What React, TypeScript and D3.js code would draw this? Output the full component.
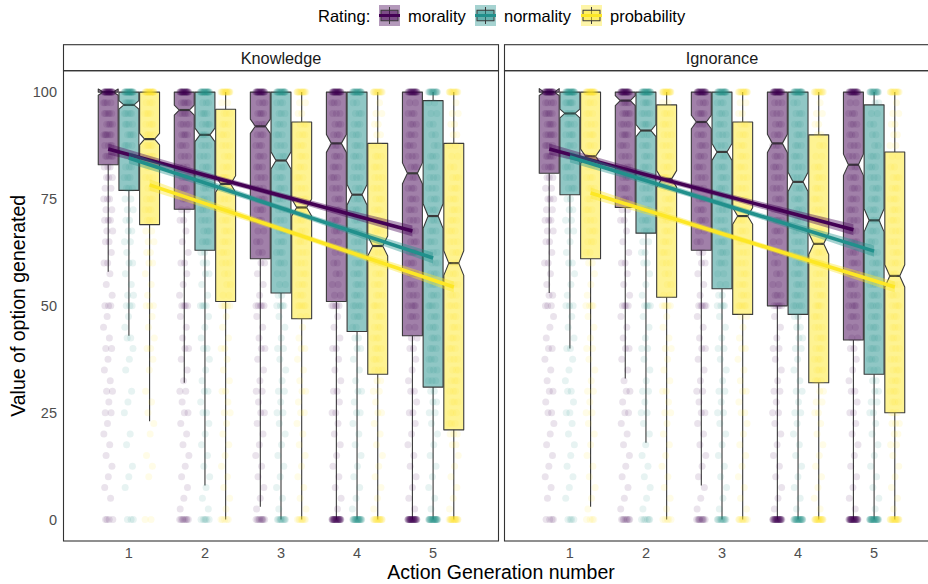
import React from "react";
import * as d3 from "d3";

const facets = ["Knowledge", "Ignorance"];
const ratings = ["morality", "normality", "probability"];
const ratingColors = ["#440154", "#21908C", "#FDE725"];
const generations = [1, 2, 3, 4, 5];
const yTicks = [0, 25, 50, 75, 100];

// boxplot stats per generation: [whisker low, q1, median, q3, whisker high]
const knowMoralityBox = [[58, 83, 100, 100, 100], [32, 72.6, 95.8, 100, 100], [3, 61, 92, 100, 100], [0, 51, 88, 100, 100], [0, 43, 81, 100, 100]];
const knowNormalityBox = [[43, 77, 97, 100, 100], [8, 63, 90, 100, 100], [0, 53, 84, 100, 100], [0, 44, 76, 100, 100], [0, 31, 71, 98, 100]];
const knowProbabilityBox = [[23, 69, 89, 100, 100], [0, 51, 78.5, 96, 100], [0, 47, 73, 93, 100], [0, 34, 64, 88, 100], [0, 21, 60, 88, 100]];
const ignMoralityBox = [[53, 81, 100, 100, 100], [33, 73, 98, 100, 100], [8, 63, 93, 100, 100], [0, 50, 88, 100, 100], [0, 42, 83, 100, 100]];
const ignNormalityBox = [[40, 76, 95, 100, 100], [18, 67, 91, 100, 100], [0, 54, 86, 100, 100], [0, 48, 79, 100, 100], [0, 34, 70, 97, 100]];
const ignProbabilityBox = [[3, 61, 85, 100, 100], [0, 52, 79.7, 97, 100], [0, 48, 71, 93, 100], [0, 32, 64.5, 90, 100], [0, 25, 57, 86, 100]];

// linear fit per rating: [value at generation 1, value at generation 5]
const knowFit = [[86.7, 67.5], [84.6, 61.2], [78.3, 54.4]];
const ignFit = [[86.7, 67.8], [84.8, 62.8], [76.4, 54.4]];
// standard error band half width at generation 1, 3, 5
const fitSe = [1.3, 0.65, 1.3];
const nObs = 1360;

// jittered observations: counts at each level 100, 97.5, ... 0
const pointLevels = d3.range(0, 41).map((i) => 100 - i * 2.5);
const knowMoralityPts = [
  [30,4,5,4,6,4,5,3,3,2,3,2,3,2,2,1,2,1,1,1,3,1,1,1,2,1,1,1,2,1,2,1,1,1,1,1,1,1,1,0,4],
  [28,5,5,4,4,3,3,3,3,3,3,2,2,1,1,1,2,1,1,1,4,1,1,1,2,1,1,1,2,1,2,1,1,1,1,1,1,1,1,1,8],
  [26,3,4,4,3,3,3,3,3,3,3,3,3,2,2,2,2,1,1,1,5,1,1,1,2,1,1,1,2,1,2,1,1,1,1,1,1,1,1,1,9],
  [28,3,3,3,3,3,3,3,3,3,3,3,3,3,2,2,2,2,2,2,5,1,1,1,2,1,1,1,2,1,2,1,1,1,1,1,1,1,1,1,28],
  [25,2,3,3,3,3,3,3,3,3,3,3,3,3,3,3,3,3,3,3,4,3,2,2,2,1,1,1,2,1,2,1,1,1,1,1,1,1,1,1,30],
];
const knowNormalityPts = [
  [25,8,5,4,4,4,3,3,3,3,2,2,2,2,2,1,2,1,1,2,3,1,1,2,1,1,1,0,1,1,1,0,1,1,0,1,1,1,0,0,3],
  [24,3,4,4,4,3,3,3,3,3,3,3,3,3,3,2,2,2,1,1,4,1,1,1,2,1,1,1,2,1,2,1,1,1,1,1,1,1,1,1,6],
  [22,3,3,3,3,3,3,3,3,3,3,3,3,3,3,3,3,2,2,2,4,1,1,1,2,1,1,1,2,1,2,1,1,1,1,1,1,1,1,1,10],
  [22,2,3,3,3,3,3,3,3,3,3,3,3,3,3,3,3,3,3,3,4,3,2,2,2,1,1,1,2,1,2,1,1,1,1,1,1,1,1,1,22],
  [18,2,2,2,2,2,3,3,3,3,3,3,3,3,3,3,3,3,3,3,4,3,3,3,3,3,3,3,2,2,2,1,1,1,1,1,1,1,1,1,25],
];
const knowProbabilityPts = [
  [22,3,4,4,4,5,4,4,3,3,3,3,3,2,2,2,2,1,1,1,3,1,1,1,2,1,1,0,1,1,1,1,1,0,1,1,1,0,0,0,2],
  [18,2,3,3,3,3,3,3,4,3,3,3,3,3,3,3,3,2,2,2,5,1,1,1,2,1,1,1,2,1,2,1,1,1,1,1,1,1,1,1,5],
  [15,2,2,3,3,3,3,3,3,3,3,3,3,3,3,3,3,3,3,3,5,2,1,1,2,1,1,1,2,1,2,1,1,1,1,1,1,1,1,1,9],
  [14,1,2,2,2,2,3,3,3,3,3,3,3,3,3,3,3,3,3,3,4,3,3,3,3,3,3,2,2,1,2,1,1,1,1,1,1,1,1,1,16],
  [14,1,2,2,2,2,2,2,3,3,3,3,3,3,3,3,3,3,3,3,4,3,3,3,3,3,3,3,3,3,3,3,3,2,1,1,1,1,1,1,18],
];
const ignMoralityPts = [
  [30,4,5,4,5,4,5,4,3,2,3,2,3,2,2,1,2,1,1,2,3,1,1,1,2,1,1,1,2,1,2,1,1,1,1,1,1,1,1,0,4],
  [28,5,5,4,4,3,3,3,3,3,3,2,2,1,1,1,2,1,1,1,4,1,1,1,2,1,1,1,2,1,2,1,1,1,1,1,1,1,1,1,8],
  [26,3,4,4,3,3,3,3,3,3,3,3,3,2,2,2,2,1,1,1,5,1,1,1,2,1,1,1,2,1,2,1,1,1,1,1,1,1,1,1,10],
  [28,3,3,3,3,3,3,3,3,3,3,3,3,3,2,2,2,2,2,3,5,1,1,1,2,1,1,1,2,1,2,1,1,1,1,1,1,1,1,1,28],
  [25,2,3,3,3,3,3,3,3,3,3,3,3,3,3,3,3,3,3,3,4,3,2,2,2,1,1,1,2,1,2,1,1,1,1,1,1,1,1,1,30],
];
const ignNormalityPts = [
  [24,6,5,4,4,3,3,3,3,3,2,2,2,2,1,1,2,1,1,1,3,1,1,1,2,1,1,1,2,1,2,1,1,1,1,1,1,1,1,0,4],
  [24,4,4,4,4,3,3,3,3,3,3,3,3,3,2,2,2,1,1,1,4,1,1,1,2,1,1,1,2,1,2,1,1,1,1,1,1,1,1,1,6],
  [22,3,3,3,3,3,3,3,3,3,3,3,3,3,3,3,3,2,2,2,4,1,1,1,2,1,1,1,2,1,2,1,1,1,1,1,1,1,1,1,12],
  [22,2,3,3,3,3,3,3,3,3,3,3,3,3,3,3,3,3,3,3,4,2,2,2,2,1,1,1,2,1,2,1,1,1,1,1,1,1,1,1,22],
  [18,2,2,2,2,2,3,3,3,3,3,3,3,3,3,3,3,3,3,3,4,3,3,3,3,3,3,2,2,2,2,1,1,1,1,1,1,1,1,1,25],
];
const ignProbabilityPts = [
  [20,3,3,3,4,3,4,3,3,3,3,3,3,3,3,2,2,1,1,1,4,1,1,1,2,1,1,1,2,1,2,1,1,1,1,1,1,1,1,1,4],
  [18,2,3,3,3,3,3,3,4,3,3,3,3,3,3,3,3,2,2,2,5,1,1,1,2,1,1,1,2,1,2,1,1,1,1,1,1,1,1,1,5],
  [15,2,2,3,3,3,3,3,3,3,3,3,3,3,3,3,3,3,3,3,5,2,1,1,2,1,1,1,2,1,2,1,1,1,1,1,1,1,1,1,10],
  [14,1,2,2,2,2,2,3,3,3,3,3,3,3,3,3,3,3,3,3,4,3,3,3,3,3,3,3,2,2,2,1,1,1,1,1,1,1,1,1,18],
  [14,1,2,2,2,2,2,2,3,3,3,3,3,3,3,3,3,3,3,3,4,3,3,3,3,3,3,3,3,3,3,3,2,2,1,1,1,1,1,1,18],
];

const boxData = [
  [knowMoralityBox, knowNormalityBox, knowProbabilityBox],
  [ignMoralityBox, ignNormalityBox, ignProbabilityBox],
];
const pointData = [
  [knowMoralityPts, knowNormalityPts, knowProbabilityPts],
  [ignMoralityPts, ignNormalityPts, ignProbabilityPts],
];
const fitData = [knowFit, ignFit];

const W = 928;
const H = 584;
const FONT = "'Liberation Sans', Arial, sans-serif";
const panelX = [[63.5, 498.5], [504.5, 939.5]];
const stripTop = 44.7;
const panelTop = 70.7;
const panelBottom = 541;
const dodge = [-0.272, 0, 0.272];
const boxHalf = 0.131;

const y = d3.scaleLinear().domain([-5, 105]).range([panelBottom, panelTop]);

function Panel({ fi }: { fi: number }) {
  const [x0, x1] = panelX[fi];
  const x = d3.scaleLinear().domain([0.14, 5.86]).range([x0, x1]);
  const hw = x(1 + boxHalf) - x(1);
  const nw = hw * 0.5;

  const boxes: any[] = [];
  const points: any[] = [];
  ratings.forEach((r, ri) => {
    const col = ratingColors[ri];
    generations.forEach((g, gi) => {
      const [lo, q1, med, q3, hi] = boxData[fi][ri][gi];
      const cx = x(g + dodge[ri]);
      const notch = (1.58 * (q3 - q1)) / Math.sqrt(nObs);
      const xl = cx - hw;
      const xr = cx + hw;
      const path = d3.path();
      path.moveTo(xl, y(q1));
      path.lineTo(xl, y(med - notch));
      path.lineTo(xl + nw, y(med));
      path.lineTo(xl, y(med + notch));
      path.lineTo(xl, y(q3));
      path.lineTo(xr, y(q3));
      path.lineTo(xr, y(med + notch));
      path.lineTo(xr - nw, y(med));
      path.lineTo(xr, y(med - notch));
      path.lineTo(xr, y(q1));
      path.closePath();
      boxes.push(
        <g key={`b${ri}-${gi}`}>
          {hi > q3 && <line x1={cx} x2={cx} y1={y(q3)} y2={y(hi)} stroke="#3a3a3a" strokeWidth={1.1} />}
          <line x1={cx} x2={cx} y1={y(q1)} y2={y(lo)} stroke="#3a3a3a" strokeWidth={1.1} />
          <path d={path.toString()} fill={col} fillOpacity={0.5} stroke="#3a3a3a" strokeWidth={1.1} strokeLinejoin="round" />
          <line x1={xl + nw} x2={xr - nw} y1={y(med)} y2={y(med)} stroke="#3a3a3a" strokeWidth={2.2} />
        </g>
      );
      const counts = pointData[fi][ri][gi];
      let k = fi * 97 + ri * 31 + gi * 13;
      counts.forEach((c, li) => {
        for (let j = 0; j < c; j++) {
          k++;
          const dx = (((k * 0.618034) % 1) - 0.5) * 9.5;
          points.push(
            <circle key={`p${ri}-${gi}-${li}-${j}`} cx={cx + dx} cy={y(pointLevels[li])} r={3.5} fill={col} fillOpacity={0.11} />
          );
        }
      });
    });
  });

  const fits = ratings.map((r, ri) => {
    const [a, b] = fitData[fi][ri];
    const xa = x(1 + dodge[ri]);
    const xb = x(5 + dodge[ri]);
    const mid = (a + b) / 2;
    const band = [
      { xx: xa, v: a, s: fitSe[0] },
      { xx: (xa + xb) / 2, v: mid, s: fitSe[1] },
      { xx: xb, v: b, s: fitSe[2] },
    ];
    const area = d3
      .area<any>()
      .x((d) => d.xx)
      .y0((d) => y(d.v - d.s))
      .y1((d) => y(d.v + d.s))
      .curve(d3.curveNatural);
    return (
      <g key={`f${ri}`}>
        <path d={area(band) || ""} fill={ratingColors[ri]} fillOpacity={0.4} />
        <line x1={xa} x2={xb} y1={y(a)} y2={y(b)} stroke={ratingColors[ri]} strokeWidth={3.6} />
      </g>
    );
  });

  return (
    <g>
      <rect x={x0} y={stripTop} width={x1 - x0} height={panelTop - stripTop} fill="white" stroke="#333" strokeWidth={1.1} />
      <text x={(x0 + x1) / 2} y={63.5} textAnchor="middle" fontSize={16.3} fill="#1a1a1a" fontFamily={FONT}>
        {facets[fi]}
      </text>
      <g>{boxes}</g>
      <g>{points}</g>
      <g>{fits}</g>
      <rect x={x0} y={panelTop} width={x1 - x0} height={panelBottom - panelTop} fill="none" stroke="#333" strokeWidth={1.1} />
      {generations.map((g) => (
        <text key={g} x={x(g)} y={558} textAnchor="middle" fontSize={14.5} fill="#4d4d4d" fontFamily={FONT}>
          {g}
        </text>
      ))}
    </g>
  );
}

function LegendKey({ x0, col }: { x0: number; col: string }) {
  const s = 21;
  const y0 = 5;
  return (
    <g>
      <rect x={x0} y={y0} width={s} height={s} fill={col} fillOpacity={0.4} />
      <line x1={x0 + s / 2} x2={x0 + s / 2} y1={y0 + 2} y2={y0 + s - 2} stroke="#3a3a3a" strokeWidth={1} />
      <rect x={x0 + 2} y={y0 + 5.25} width={s - 4} height={s - 10.5} fill={col} fillOpacity={0.5} stroke="#3a3a3a" strokeWidth={1} />
      <line x1={x0} x2={x0 + s} y1={y0 + s / 2} y2={y0 + s / 2} stroke={col} strokeWidth={3} />
    </g>
  );
}

export default function App() {
  const legendX = [379, 475, 581];
  return (
    <svg width={W} height={H} style={{ position: "absolute", left: 0, top: 0, background: "white" }} fontFamily={FONT}>
      <rect width={W} height={H} fill="white" />
      {facets.map((f, fi) => (
        <Panel key={f} fi={fi} />
      ))}
      {yTicks.map((t) => (
        <text key={t} x={57} y={y(t)} dy="0.35em" textAnchor="end" fontSize={14.5} fill="#4d4d4d">
          {t}
        </text>
      ))}
      <text x={501} y={579} textAnchor="middle" fontSize={19.5} fill="#000">
        Action Generation number
      </text>
      <text transform={`translate(25,${(panelTop + panelBottom) / 2}) rotate(-90)`} textAnchor="middle" fontSize={19.5} fill="#000">
        Value of option generated
      </text>
      <text x={318} y={21.5} fontSize={16.5} fill="#000">
        Rating:
      </text>
      {ratings.map((r, ri) => (
        <g key={r}>
          <LegendKey x0={legendX[ri]} col={ratingColors[ri]} />
          <text x={legendX[ri] + 29} y={21.5} fontSize={16.5} fill="#000">
            {r}
          </text>
        </g>
      ))}
    </svg>
  );
}
